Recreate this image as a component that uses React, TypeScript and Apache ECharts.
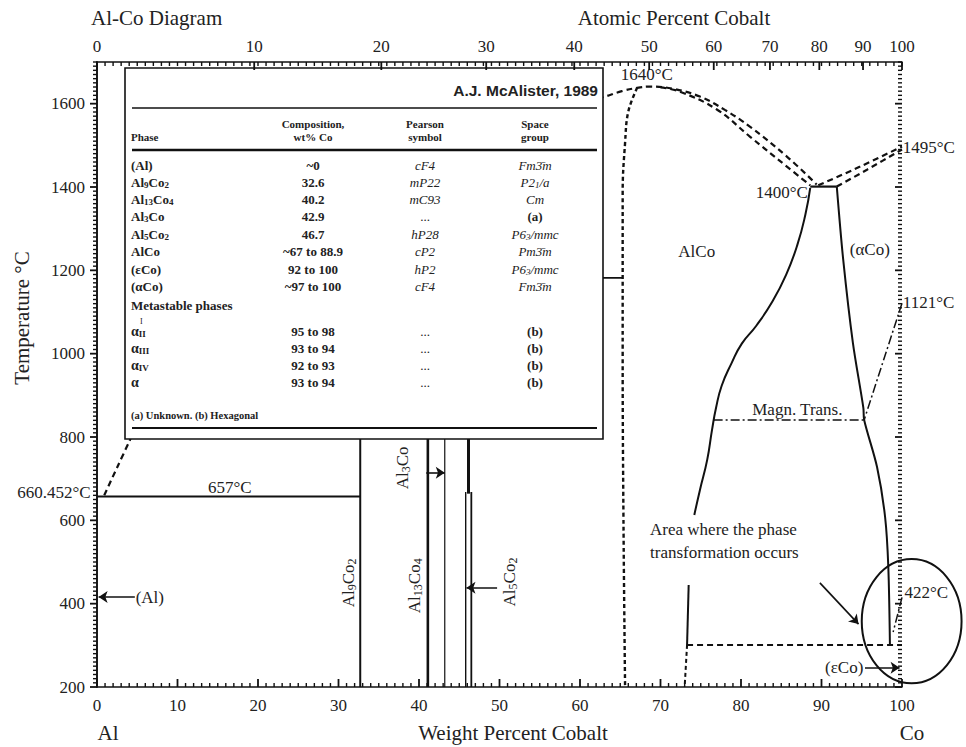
import React, { useEffect, useRef } from "react";
import * as echarts from "echarts";

const SERIF = "'Liberation Serif', 'Times New Roman', Times, serif";
const SANS = "'Liberation Sans', Arial, Helvetica, sans-serif";
const INK = "#111";
const TXT = "#222";

// ---------- layout ----------
const GRID = { left: 97, top: 62, width: 805, height: 625 };

// ---------- axes ----------
const X_MIN = 0, X_MAX = 100, X_STEP = 10;
const T_MIN = 200, T_MAX = 1700, T_STEP = 200;
const atomicLabels = [0, 10, 20, 30, 40, 50, 60, 70, 80, 90, 100];
const M_AL = 26.982, M_CO = 58.933; // atomic masses for the at.% -> wt.% axis
const atToWt = (a: number) => ((a * M_CO) / (a * M_CO + (100 - a) * M_AL)) * 100;
const atomicPos = atomicLabels.map(atToWt);

// ---------- phase boundaries (wt% Co, °C) ----------
const liqAlSide = [[0.9, 660], [2.5, 727], [4.1, 793], [5.2, 840]];
const liqUpper = [[61.0, 1605], [63.1, 1617], [65.2, 1630], [67.1, 1638], [68.7, 1641], [71.5, 1636], [74.9, 1617], [78.0, 1585], [81.1, 1545], [85.7, 1473], [89.4, 1406]];
const liqLower = [[70.0, 1639], [72.4, 1629], [77.0, 1586], [81.1, 1521], [85.7, 1449], [88.6, 1404]];
const liqCoUpper = [[89.6, 1404], [94.8, 1449], [100, 1497]];
const liqCoLower = [[91.9, 1401], [95.7, 1442], [100, 1490]];
const alcoLeft = [[67.1, 1638], [66.0, 1581], [65.6, 1506], [65.3, 1386], [65.3, 1000], [65.4, 600], [65.6, 200]];
const peritectic = [[46.4, 1182], [65.3, 1182]];
const plateau1400 = [[88.6, 1401], [91.9, 1401]];
const alcoRight = [[88.6, 1398], [88.0, 1334], [87.0, 1261], [85.6, 1189], [83.9, 1125], [81.9, 1067], [80.1, 1024], [78.8, 976], [77.6, 923], [76.9, 870], [76.4, 817], [75.8, 745], [74.9, 673], [74.2, 613]];
const alcoRightLow = [[73.5, 445], [73.3, 301]];
const alcoRightDash = [[73.3, 301], [73.0, 200]];
const alphaCoLeft = [[91.9, 1401], [92.7, 1225], [93.9, 1026], [95.2, 870], [95.3, 841], [96.9, 728], [97.9, 608], [98.3, 488], [98.5, 301]];
const magnTrans = [[76.6, 841], [95.3, 841]];
const curieLine = [[100, 1121], [95.3, 841]];
const epsAlpha = [[100, 415], [98.9, 332]];
const eutectoid = [[73.3, 301], [100, 301]];
const eutectic657 = [[0, 657], [32.7, 657]];
const al9co2 = [[32.7, 200], [32.7, 800]];
const al13co4 = [[41.1, 200], [41.1, 800]];
const al3co = [[43.2, 200], [43.2, 800]];
const al5co2a = [[45.8, 200], [45.8, 668]];
const al5co2b = [[46.5, 200], [46.5, 668]];
const al5co2c = [[46.15, 664], [46.15, 800]];

// ---------- arrows ----------
const arrows = [
  [[4.7, 416], [0.2, 416]],
  [[40.9, 714], [43.2, 714]],
  [[49.7, 438], [45.9, 438]],
  [[89.8, 450], [94.6, 351]],
  [[95.4, 246], [99.7, 246]],
];

// ---------- annotations ----------
const annText = ["657°C", "660.452°C", "(Al)", "1640°C", "1400°C", "1495°C", "1121°C", "422°C", "AlCo", "(αCo)", "Magn. Trans.", "Area where the phase", "transformation occurs", "(εCo)"];
const annW = [16.5, -0.8, 4.8, 68.3, 88.3, 100.1, 100.1, 100.3, 74.5, 96.0, 87.0, 68.7, 68.7, 95.2];
const annT = [680, 666, 416, 1670, 1386, 1494, 1122, 426, 1245, 1249, 865, 577, 524, 248];
const annAlign = ["center", "right", "left", "center", "right", "left", "left", "left", "center", "center", "center", "left", "left", "right"];

const rotText = ["Al{s|9}Co{s|2}", "Al{s|13}Co{s|4}", "Al{s|3}Co", "Al{s|5}Co{s|2}"];
const rotW = [31.2, 39.5, 37.9, 51.3];
const rotT = [450, 443, 726, 452];

const circleCenter = [101.2, 358];
const circleRadius = [6.2, 149];

// ---------- table ----------
const tablePhases = ["(Al)", "Al{s|9}Co{s|2}", "Al{s|13}Co{s|4}", "Al{s|3}Co", "Al{s|5}Co{s|2}", "AlCo", "(εCo)", "(αCo)"];
const tableComp = ["~0", "32.6", "40.2", "42.9", "46.7", "~67 to 88.9", "92 to 100", "~97 to 100"];
const tablePearson = ["cF4", "mP22", "mC93", "...", "hP28", "cP2", "hP2", "cF4"];
const tableSpace = ["Fm3\u0304m", "P2{s|1}/a", "Cm", "(a)", "P6{s|3}/mmc", "Pm3\u0304m", "P6{s|3}/mmc", "Fm3\u0304m"];
const metaPhases = ["α{s|II}", "α{s|III}", "α{s|IV}", "α"];
const metaComp = ["95 to 98", "93 to 94", "92 to 93", "93 to 94"];
const metaPearson = ["...", "...", "...", "..."];
const metaSpace = ["(b)", "(b)", "(b)", "(b)"];
const rowY = [165, 182, 199, 216, 234, 251, 269, 286];
const metaY = [331, 348, 365, 382];

const richBold = { s: { fontFamily: SERIF, fontSize: 9, fontWeight: "bold", fill: TXT, padding: [5, 0, 0, 0] } };
const richItal = { s: { fontFamily: SERIF, fontSize: 9, fontStyle: "italic", fill: TXT, padding: [5, 0, 0, 0] } };
const richRot = { s: { fontFamily: SERIF, fontSize: 12, fill: TXT, padding: [7, 0, 0, 0] } };

// ---------- tick marks along the frame (small filled bars), placed through the chart's scales ----------
function tickElements(chart: any) {
  const els: any[] = [];
  const px = (x: number, y: number) => {
    const p = chart.convertToPixel({ xAxisIndex: 0, yAxisIndex: 0 }, [x, y]);
    if (p && isFinite(p[0]) && isFinite(p[1])) return p;
    return [GRID.left + ((x - X_MIN) / (X_MAX - X_MIN)) * GRID.width, GRID.top + ((T_MAX - y) / (T_MAX - T_MIN)) * GRID.height];
  };
  const bar = (x: number, y: number, w: number, h: number) =>
    els.push({ type: "rect", z: 120, silent: true, shape: { x, y, width: w, height: h }, style: { fill: INK, stroke: null } });
  for (let w = X_MIN; w <= X_MAX; w += 1) {
    const major = w % X_STEP === 0;
    const b = px(w, T_MIN), t = px(w, T_MAX);
    const len = major ? 8 : 4, th = major ? 1.8 : 1.4;
    bar(b[0] - th / 2, b[1] - len, th, len);
    bar(t[0] - 0.7, t[1], 1.4, 4);
  }
  atomicPos.forEach((p) => {
    const t = px(p, T_MAX);
    bar(t[0] - 0.9, t[1], 1.8, 8);
  });
  for (let T = T_MIN; T <= T_MAX; T += 10) {
    const major = (T - T_MIN) % T_STEP === 0;
    const l = px(X_MIN, T), r = px(X_MAX, T);
    const len = major ? 7 : 4, th = major ? 1.8 : 1.4;
    bar(l[0] - len, l[1] - th / 2, len, th);
    bar(r[0] - len, r[1] - th / 2, len, th);
  }
  return els;
}

function tableElements() {
  const els: any[] = [];
  const L = 125, T = 68, R = 603, B = 439;
  els.push({ type: "rect", z: 100, shape: { x: L, y: T, width: R - L, height: B - T }, style: { fill: "#fff", stroke: INK, lineWidth: 1.6 } });
  const rule = (y: number, w: number) =>
    els.push({ type: "line", z: 101, shape: { x1: L + 7, y1: y, x2: R - 6, y2: y }, style: { stroke: INK, lineWidth: w } });
  rule(108, 1.3);
  rule(150, 2.4);
  rule(428, 2.2);
  const txt = (x: number, y: number, text: string, opt: any = {}) =>
    els.push({
      type: "text", z: 101, x, y,
      style: { text, fill: TXT, fontFamily: SERIF, fontSize: 13, fontWeight: "bold", align: "left", verticalAlign: "middle", rich: richBold, ...opt },
    });
  txt(598, 90, "A.J. McAlister, 1989", { fontFamily: SANS, fontSize: 15.5, align: "right" });
  const cx = [131, 313, 425, 535];
  const H = 11;
  txt(cx[0], 137, "Phase", { fontSize: H });
  txt(cx[1], 124, "Composition,", { fontSize: H, align: "center" });
  txt(cx[1], 137, "wt% Co", { fontSize: H, align: "center" });
  txt(cx[2], 124, "Pearson", { fontSize: H, align: "center" });
  txt(cx[2], 137, "symbol", { fontSize: H, align: "center" });
  txt(cx[3], 124, "Space", { fontSize: H, align: "center" });
  txt(cx[3], 137, "group", { fontSize: H, align: "center" });
  tablePhases.forEach((p, i) => {
    const y = rowY[i];
    txt(cx[0], y, p);
    txt(cx[1], y, tableComp[i], { align: "center" });
    txt(cx[2], y, tablePearson[i], { align: "center", fontWeight: "normal", fontStyle: tablePearson[i] === "..." ? "normal" : "italic", rich: richItal });
    const sp = tableSpace[i];
    const upright = sp.startsWith("(");
    txt(cx[3], y, sp, upright ? { align: "center" } : { align: "center", fontWeight: "normal", fontStyle: "italic", rich: richItal });
  });
  txt(cx[0], 305, "Metastable phases");
  metaPhases.forEach((p, i) => {
    const y = metaY[i];
    txt(cx[0], y, p, { fontSize: 14 });
    txt(cx[1], y, metaComp[i], { align: "center" });
    txt(cx[2], y, metaPearson[i], { align: "center", fontWeight: "normal" });
    txt(cx[3], y, metaSpace[i], { align: "center" });
  });
  txt(140, 321, "I", { fontSize: 8, fontWeight: "normal" });
  txt(cx[0], 415, "(a) Unknown. (b) Hexagonal", { fontSize: 10.5 });
  return els;
}

function frameTexts() {
  const t = (x: number, y: number, text: string, opt: any = {}) => ({
    type: "text", z: 50, x, y,
    style: { text, fill: TXT, fontFamily: SERIF, fontSize: 21, align: "center", verticalAlign: "middle", ...opt },
  });
  return [
    t(91, 18, "Al-Co Diagram", { align: "left" }),
    t(674, 18, "Atomic Percent Cobalt"),
    t(513, 733, "Weight Percent Cobalt"),
    t(108, 733, "Al"),
    t(912, 733, "Co"),
    { ...t(22, 318, "Temperature °C", { fontSize: 21 }), rotation: Math.PI / 2 },
  ];
}

function lineSeries(data: any[], width: number, dash: any = "solid", smooth: number | boolean = false) {
  return {
    type: "line", data, symbol: "none", smooth, clip: false, silent: true, z: 3,
    lineStyle: { color: INK, width, type: dash, cap: "butt" },
  };
}

function buildOption() {
  const tickLabel = { fontFamily: SERIF, fontSize: 17, color: TXT };
  const axisLine = { show: true, lineStyle: { color: INK, width: 1.6 } };
  const noTick = { show: false };
  const DASH = [6, 4];
  const SHORT = [4, 3];
  const DOTDASH = [9, 3, 2, 3];
  return {
    animation: false,
    backgroundColor: "#fff",
    textStyle: { fontFamily: SERIF },
    grid: { ...GRID, show: false },
    xAxis: [
      {
        type: "value", position: "bottom", min: X_MIN, max: X_MAX, interval: X_STEP,
        axisLine, splitLine: { show: false }, axisTick: noTick, minorTick: noTick,
        axisLabel: { ...tickLabel, margin: 10, formatter: (v: number) => String(v) },
      },
      {
        type: "value", position: "top", min: X_MIN, max: X_MAX,
        axisLine, splitLine: { show: false }, axisTick: noTick, minorTick: noTick,
        axisLabel: {
          ...tickLabel, margin: 7, customValues: atomicPos,
          formatter: (v: number) => {
            const i = atomicPos.findIndex((p) => Math.abs(p - v) < 0.01);
            return i >= 0 ? String(atomicLabels[i]) : "";
          },
        },
      },
    ],
    yAxis: [
      {
        type: "value", position: "left", min: T_MIN, max: T_MAX, interval: T_STEP,
        axisLine, splitLine: { show: false }, axisTick: noTick, minorTick: noTick,
        axisLabel: { ...tickLabel, margin: 12, showMaxLabel: false, formatter: (v: number) => String(v) },
      },
      {
        type: "value", position: "right", min: T_MIN, max: T_MAX, interval: T_STEP,
        axisLine, splitLine: { show: false }, axisLabel: { show: false }, axisTick: noTick, minorTick: noTick,
      },
    ],
    series: [
      lineSeries(liqAlSide, 2.2, DASH, 0.3),
      lineSeries(liqUpper, 2.2, DASH, 0.4),
      lineSeries(liqLower, 2.2, DASH, 0.4),
      lineSeries(liqCoUpper, 2.2, DASH, 0.3),
      lineSeries(liqCoLower, 2.2, DASH, 0.3),
      lineSeries(alcoLeft, 2.4, SHORT, 0.4),
      lineSeries(peritectic, 1.8),
      lineSeries(plateau1400, 2.2),
      lineSeries(alcoRight, 2, "solid", 0.5),
      lineSeries(alcoRightLow, 2),
      lineSeries(alcoRightDash, 2, SHORT),
      lineSeries(alphaCoLeft, 2, "solid", 0.3),
      lineSeries(magnTrans, 1.5, DOTDASH),
      lineSeries(curieLine, 1.5, DOTDASH),
      lineSeries(epsAlpha, 1.5, DOTDASH),
      lineSeries(eutectoid, 2, DASH),
      lineSeries(eutectic657, 2),
      lineSeries(al9co2, 2),
      lineSeries(al13co4, 2.6),
      lineSeries(al3co, 1.2),
      lineSeries(al5co2a, 1.4),
      lineSeries(al5co2b, 1.8),
      lineSeries(al5co2c, 3),
      {
        type: "lines", coordinateSystem: "cartesian2d", polyline: false, silent: true, z: 4,
        symbol: ["none", "arrow"], symbolSize: 9,
        lineStyle: { color: INK, width: 1.6, opacity: 1, curveness: 0 },
        data: arrows.map((c) => ({ coords: c })),
      },
      {
        type: "custom", coordinateSystem: "cartesian2d", clip: false, silent: true, z: 5,
        data: [[circleCenter[0], circleCenter[1], circleRadius[0], circleRadius[1]]],
        renderItem: (_p: any, api: any) => {
          const c = api.coord([api.value(0), api.value(1)]);
          const rx = api.size([api.value(2), 0])[0];
          const ry = api.size([0, api.value(3)])[1];
          return { type: "ellipse", shape: { cx: c[0], cy: c[1], rx, ry }, style: { fill: "none", stroke: INK, lineWidth: 2 } };
        },
      },
      {
        type: "custom", coordinateSystem: "cartesian2d", clip: false, silent: true, z: 6,
        data: annText.map((_, i) => [annW[i], annT[i], i]),
        renderItem: (_p: any, api: any) => {
          const i = api.value(2);
          const c = api.coord([api.value(0), api.value(1)]);
          return {
            type: "text", x: c[0], y: c[1],
            style: { text: annText[i], fill: TXT, fontFamily: SERIF, fontSize: 17, align: annAlign[i], verticalAlign: "middle" },
          };
        },
      },
      {
        type: "custom", coordinateSystem: "cartesian2d", clip: false, silent: true, z: 6,
        data: rotText.map((_, i) => [rotW[i], rotT[i], i]),
        renderItem: (_p: any, api: any) => {
          const i = api.value(2);
          const c = api.coord([api.value(0), api.value(1)]);
          return {
            type: "text", x: c[0], y: c[1], rotation: Math.PI / 2,
            style: { text: rotText[i], fill: TXT, fontFamily: SERIF, fontSize: 17, align: "center", verticalAlign: "middle", rich: richRot },
          };
        },
      },
    ],
  };
}

export default function App() {
  const ref = useRef<HTMLDivElement>(null);
  useEffect(() => {
    if (!ref.current) return;
    const chart = echarts.init(ref.current, null, { renderer: "svg" });
    chart.setOption(buildOption() as any);
    chart.setOption({ graphic: { elements: [...tableElements(), ...frameTexts(), ...tickElements(chart)] } } as any);
    return () => chart.dispose();
  }, []);
  return <div ref={ref} style={{ position: "fixed", left: 0, top: 0, width: 966, height: 747, background: "#fff" }} />;
}
